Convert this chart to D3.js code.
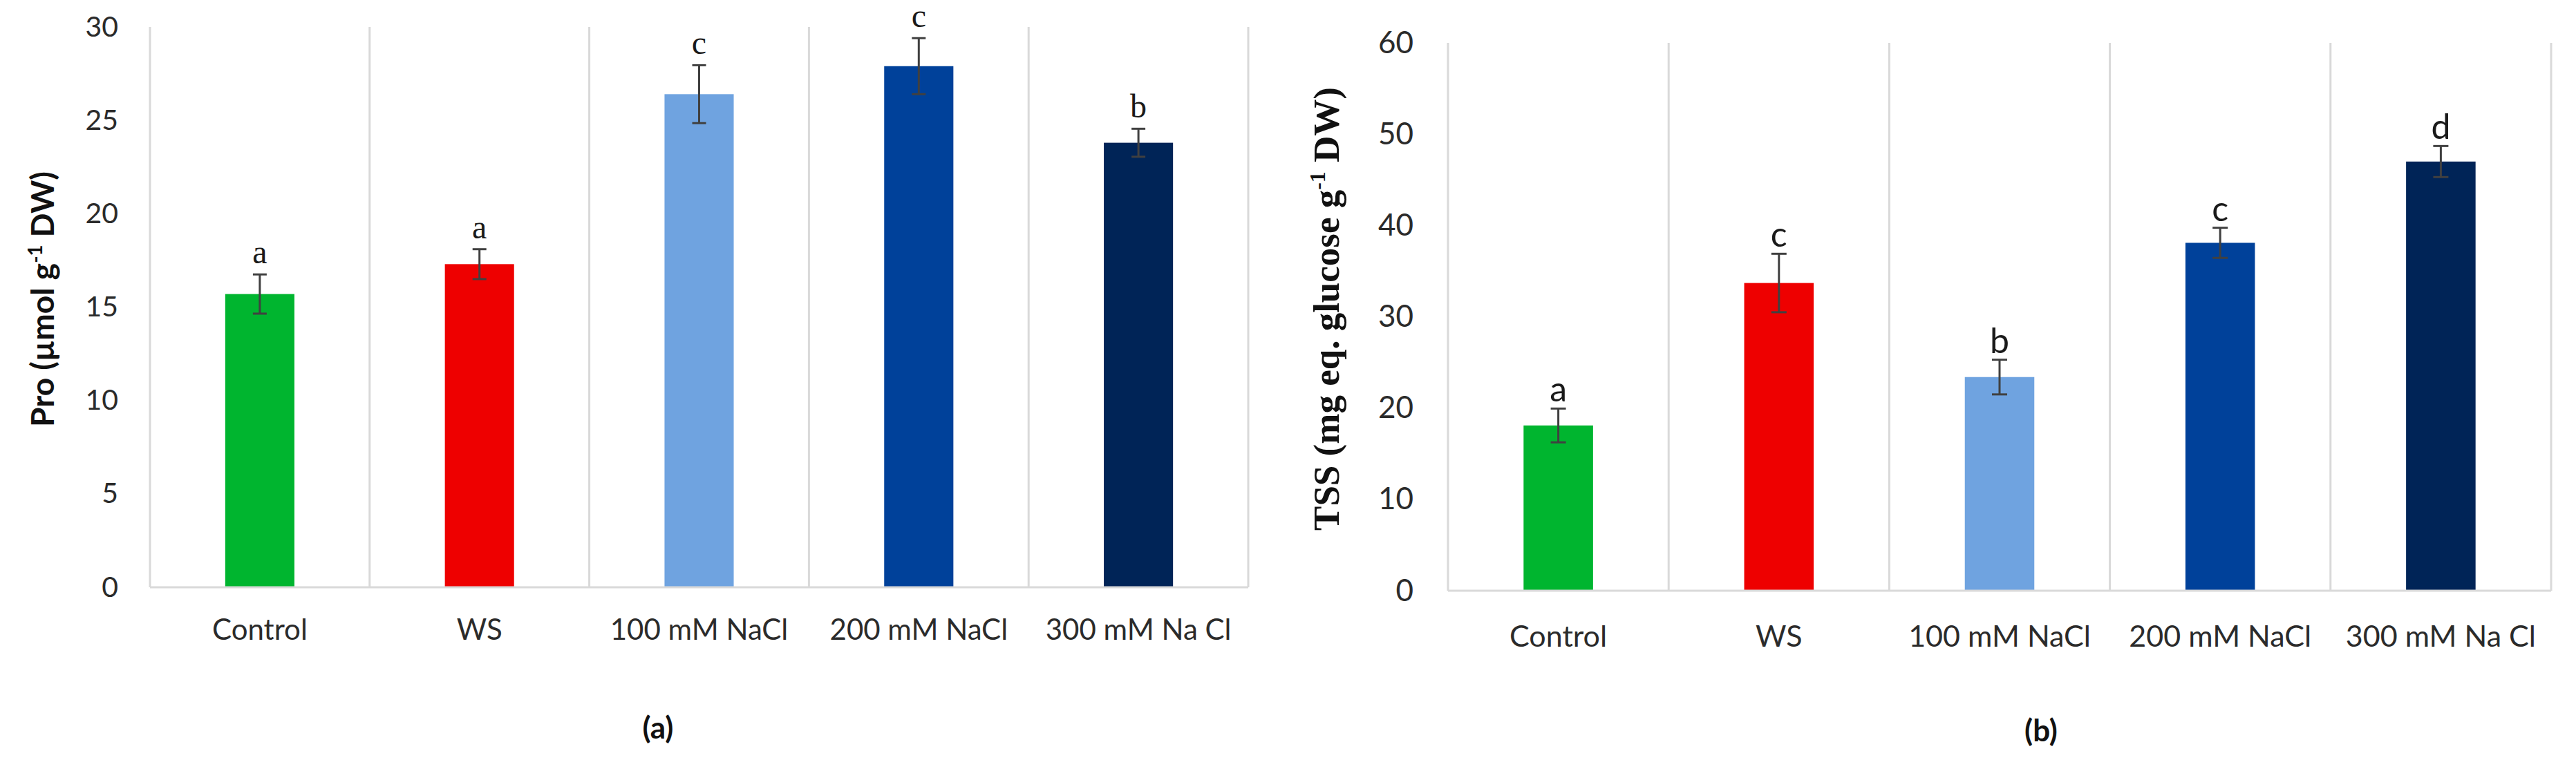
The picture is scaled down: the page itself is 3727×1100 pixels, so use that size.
<!DOCTYPE html>
<html>
<head>
<meta charset="utf-8">
<script src="https://cdn.jsdelivr.net/npm/d3@7"></script>
<style>
  body { margin: 0; background: #fff; }
  svg { display: block; }
</style>
</head>
<body>
<svg id="chart"></svg>
<script>
const categories = ["Control", "WS", "100 mM NaCl", "200 mM NaCl", "300 mM Na Cl"];

// (a) proline
const proValues = [15.7, 17.3, 26.4, 27.9, 23.8];
const proErrors = [1.05, 0.8, 1.55, 1.5, 0.75];
const proLetters = ["a", "a", "c", "c", "b"];
const proTicks = [0, 5, 10, 15, 20, 25, 30];

// (b) total soluble sugars
const tssValues = [18.1, 33.7, 23.4, 38.1, 47.0];
const tssErrors = [1.85, 3.2, 1.9, 1.65, 1.7];
const tssLetters = ["a", "c", "b", "c", "d"];
const tssTicks = [0, 10, 20, 30, 40, 50, 60];

const barColors = ["#00b52f", "#ee0000", "#6fa3e0", "#00419a", "#002457"];

const width = 3727;
const height = 1100;
const gridColor = "#d9d9d9";
const errColor = "#404040";

const svg = d3.select("#chart")
  .attr("width", width)
  .attr("height", height)
  .attr("viewBox", `0 0 ${width} ${height}`);

svg.append("rect").attr("width", width).attr("height", height).attr("fill", "#fff");

function drawPanel(p) {
  const g = svg.append("g");
  const data = categories.map((c, i) => ({
    name: c, value: p.values[i], err: p.errors[i], letter: p.letters[i], color: barColors[i]
  }));

  const x = d3.scaleBand().domain(categories).range([p.left, p.right]).padding(0);
  const y = d3.scaleLinear().domain([0, d3.max(p.ticks)]).range([p.bottom, p.top]);
  const barW = x.bandwidth() * 0.315;

  // vertical gridlines at category borders
  const borders = categories.map(c => x(c)).concat([p.right]);
  g.selectAll("line.grid")
    .data(borders)
    .join("line")
    .attr("class", "grid")
    .attr("x1", d => d).attr("x2", d => d)
    .attr("y1", p.top).attr("y2", p.bottom)
    .attr("stroke", gridColor)
    .attr("stroke-width", 3);

  // bars
  g.selectAll("rect.bar")
    .data(data)
    .join("rect")
    .attr("class", "bar")
    .attr("x", d => x(d.name) + x.bandwidth() / 2 - barW / 2)
    .attr("y", d => y(d.value))
    .attr("width", barW)
    .attr("height", d => y(0) - y(d.value))
    .attr("fill", d => d.color);

  // baseline
  g.append("line")
    .attr("x1", p.left).attr("x2", p.right)
    .attr("y1", y(0)).attr("y2", y(0))
    .attr("stroke", gridColor)
    .attr("stroke-width", 3);

  // error bars
  const eb = g.selectAll("g.err").data(data).join("g").attr("class", "err")
    .attr("stroke", errColor).attr("stroke-width", 3);
  const cx = d => x(d.name) + x.bandwidth() / 2;
  eb.append("line")
    .attr("x1", cx).attr("x2", cx)
    .attr("y1", d => y(d.value + d.err)).attr("y2", d => y(d.value - d.err));
  [1, -1].forEach(s => {
    eb.append("line")
      .attr("x1", d => cx(d) - p.cap / 2).attr("x2", d => cx(d) + p.cap / 2)
      .attr("y1", d => y(d.value + s * d.err)).attr("y2", d => y(d.value + s * d.err));
  });

  // significance letters
  g.selectAll("text.letter")
    .data(data)
    .join("text")
    .attr("class", "letter")
    .attr("x", cx)
    .attr("y", d => y(d.value + d.err) - p.letterGap)
    .attr("text-anchor", "middle")
    .attr("font-family", p.letterFont)
    .attr("font-size", p.letterSize)
    .attr("fill", "#1a1a1a")
    .text(d => d.letter);

  // y axis
  const yAxis = g.append("g")
    .attr("transform", `translate(${p.left},0)`)
    .call(d3.axisLeft(y).tickValues(p.ticks).tickSize(0).tickPadding(p.tickPad));
  yAxis.select(".domain").remove();
  yAxis.selectAll("text")
    .attr("font-family", "Lato, 'Open Sans', sans-serif")
    .attr("font-size", p.tickSize)
    .attr("fill", "#2b2b2b");

  // x axis
  const xAxis = g.append("g")
    .attr("transform", `translate(0,${y(0)})`)
    .call(d3.axisBottom(x).tickSize(0).tickPadding(p.catPad));
  xAxis.select(".domain").remove();
  xAxis.selectAll("text")
    .attr("font-family", "Lato, 'Open Sans', sans-serif")
    .attr("font-size", p.catSize)
    .attr("fill", "#2b2b2b");

  // y label
  const yl = g.append("text")
    .attr("transform", `translate(${p.labelX},${p.labelY}) rotate(-90)`)
    .attr("text-anchor", "middle")
    .attr("font-family", p.labelFont)
    .attr("font-weight", "bold")
    .attr("font-size", p.labelSize)
    .attr("fill", "#111");
  yl.append("tspan").text(p.label[0]);
  yl.append("tspan").attr("dy", -p.labelSize * 0.38).attr("font-size", p.labelSize * 0.6).text("-1");
  yl.append("tspan").attr("dy", p.labelSize * 0.38).text(p.label[1]);

  // panel caption
  g.append("text")
    .attr("x", p.captionX).attr("y", p.captionY)
    .attr("text-anchor", "middle")
    .attr("dominant-baseline", "central")
    .attr("font-family", "Lato, 'Open Sans', sans-serif")
    .attr("font-weight", "bold")
    .attr("font-size", 44)
    .attr("fill", "#111")
    .text(p.caption);
}

drawPanel({
  values: proValues, errors: proErrors, letters: proLetters, ticks: proTicks,
  left: 217, right: 1806, top: 39, bottom: 850,
  cap: 20, letterGap: 16, letterFont: "'Liberation Serif', 'Times New Roman', serif", letterSize: 48,
  tickPad: 46, tickSize: 41, catPad: 46, catSize: 42,
  label: ["Pro (µmol g", " DW)"], labelFont: "Lato, 'Open Sans', sans-serif", labelSize: 46,
  labelX: 78, labelY: 433,
  caption: "(a)", captionX: 952, captionY: 1052
});

drawPanel({
  values: tssValues, errors: tssErrors, letters: tssLetters, ticks: tssTicks,
  left: 2095, right: 3691, top: 62, bottom: 855,
  cap: 22, letterGap: 10, letterFont: "Lato, 'Open Sans', sans-serif", letterSize: 50,
  tickPad: 50, tickSize: 44, catPad: 50, catSize: 43,
  label: ["TSS (mg eq. glucose g", " DW)"], labelFont: "'Liberation Serif', 'Times New Roman', serif", labelSize: 53,
  labelX: 1937, labelY: 447,
  caption: "(b)", captionX: 2953, captionY: 1056
});
</script>
</body>
</html>
